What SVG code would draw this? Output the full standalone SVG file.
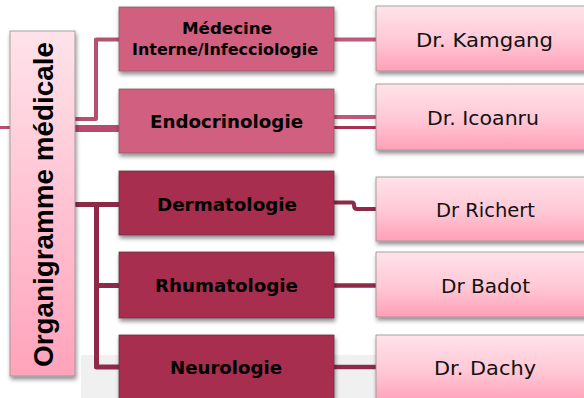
<svg xmlns="http://www.w3.org/2000/svg" width="584" height="398" viewBox="0 0 584 398">
<defs>
<linearGradient id="pink" x1="0" y1="0" x2="0" y2="1">
<stop offset="0" stop-color="#ffe3ea"/>
<stop offset="0.55" stop-color="#ffc7d5"/>
<stop offset="1" stop-color="#ff9fb7"/>
</linearGradient>
<linearGradient id="pinkV" x1="0" y1="0" x2="0" y2="1">
<stop offset="0" stop-color="#ffe3ea"/>
<stop offset="1" stop-color="#ffa3bb"/>
</linearGradient>
<filter id="sh" x="-10%" y="-10%" width="125%" height="140%">
<feDropShadow dx="1" dy="3" stdDeviation="2" flood-color="#000" flood-opacity="0.45"/>
</filter>
</defs>
<style>
.mid1{fill:#d15f80;stroke:#8a5a66;stroke-width:0.8}
.mid2{fill:#a72d50;stroke:#6a3344;stroke-width:0.8}
.doc{fill:url(#pink);stroke:#8f8f8f;stroke-width:0.8}
.bt{font-family:"DejaVu Sans","Liberation Sans",sans-serif;font-weight:bold;fill:#000;text-anchor:middle}
.dt{font-family:"DejaVu Sans","Liberation Sans",sans-serif;fill:#111;text-anchor:middle;font-size:20px}
.c1{fill:none;stroke:#b5506f;stroke-linejoin:round}
.c2{fill:none;stroke:#8e2a48;stroke-linejoin:round}
</style>
<rect x="81" y="355" width="503" height="43" fill="#f0f0f0"/>
<g id="connectors">
<line x1="0" y1="127.5" x2="11" y2="127.5" class="c1" stroke-width="3"/>
<path d="M75,119 H96 V39.5 H120" class="c1" stroke-width="4"/>
<line x1="75" y1="128.5" x2="120" y2="128.5" stroke="#b84a6c" stroke-width="7"/>
<path d="M75,204.5 H120 M96.5,204.5 V367 H120 M96.5,285.5 H120" class="c2" stroke-width="5"/>
<line x1="334" y1="39.5" x2="377" y2="39.5" stroke="#c0587a" stroke-width="4"/>
<line x1="334" y1="117" x2="377" y2="117" stroke="#c0587a" stroke-width="4"/>
<line x1="334" y1="127.5" x2="377" y2="127.5" stroke="#a83050" stroke-width="3"/>
<path d="M334,202.5 H352 Q354,202.5 354,205 Q354,209 357,209 H377" class="c2" stroke-width="4"/>
<line x1="334" y1="285.5" x2="377" y2="285.5" stroke="#8e2a48" stroke-width="4.5"/>
<line x1="334" y1="367" x2="377" y2="367" stroke="#8e2a48" stroke-width="4.5"/>
</g>
<g id="root">
<rect x="10" y="31" width="65" height="345" fill="url(#pinkV)" stroke="#8f8f8f" stroke-width="0.8" filter="url(#sh)"/>
<text transform="translate(53,204.5) rotate(-90)" font-family="'Liberation Sans',Arial,sans-serif" font-weight="bold" font-size="28" text-anchor="middle" fill="#000" textLength="325" lengthAdjust="spacingAndGlyphs">Organigramme médicale</text>
</g>
<g id="medecine">
<rect x="119" y="7" width="215" height="64" class="mid1" filter="url(#sh)"/>
<text class="bt" x="227" y="34" font-size="16" textLength="90" lengthAdjust="spacingAndGlyphs">Médecine</text>
<text class="bt" x="225" y="55" font-size="16" textLength="186" lengthAdjust="spacingAndGlyphs">Interne/Infecciologie</text>
</g>
<g id="endocrinologie">
<rect x="119" y="89" width="215" height="64" class="mid1" filter="url(#sh)"/>
<text class="bt" x="226.5" y="128" font-size="18" textLength="153" lengthAdjust="spacingAndGlyphs">Endocrinologie</text>
</g>
<g id="dermatologie">
<rect x="119" y="171" width="215" height="64" class="mid2" filter="url(#sh)"/>
<text class="bt" x="227" y="211" font-size="18" textLength="140" lengthAdjust="spacingAndGlyphs">Dermatologie</text>
</g>
<g id="rhumatologie">
<rect x="119" y="252" width="215" height="66" class="mid2" filter="url(#sh)"/>
<text class="bt" x="226.5" y="292" font-size="18" textLength="143" lengthAdjust="spacingAndGlyphs">Rhumatologie</text>
</g>
<g id="neurologie">
<rect x="119" y="335" width="215" height="68" class="mid2" filter="url(#sh)"/>
<text class="bt" x="226" y="374" font-size="18" textLength="112" lengthAdjust="spacingAndGlyphs">Neurologie</text>
</g>
<g id="kamgang">
<rect x="376" y="6" width="216" height="65" class="doc" filter="url(#sh)"/>
<text class="dt" x="484.5" y="47" textLength="137" lengthAdjust="spacingAndGlyphs">Dr. Kamgang</text>
</g>
<g id="icoanru">
<rect x="376" y="84" width="216" height="66" class="doc" filter="url(#sh)"/>
<text class="dt" x="483" y="125" textLength="112" lengthAdjust="spacingAndGlyphs">Dr. Icoanru</text>
</g>
<g id="richert">
<rect x="376" y="177" width="216" height="64" class="doc" filter="url(#sh)"/>
<text class="dt" x="485.5" y="217" textLength="99" lengthAdjust="spacingAndGlyphs">Dr Richert</text>
</g>
<g id="badot">
<rect x="376" y="252" width="216" height="65" class="doc" filter="url(#sh)"/>
<text class="dt" x="485.5" y="293" textLength="89" lengthAdjust="spacingAndGlyphs">Dr Badot</text>
</g>
<g id="dachy">
<rect x="376" y="335" width="216" height="68" class="doc" filter="url(#sh)"/>
<text class="dt" x="485" y="375" textLength="102" lengthAdjust="spacingAndGlyphs">Dr. Dachy</text>
</g>
</svg>
